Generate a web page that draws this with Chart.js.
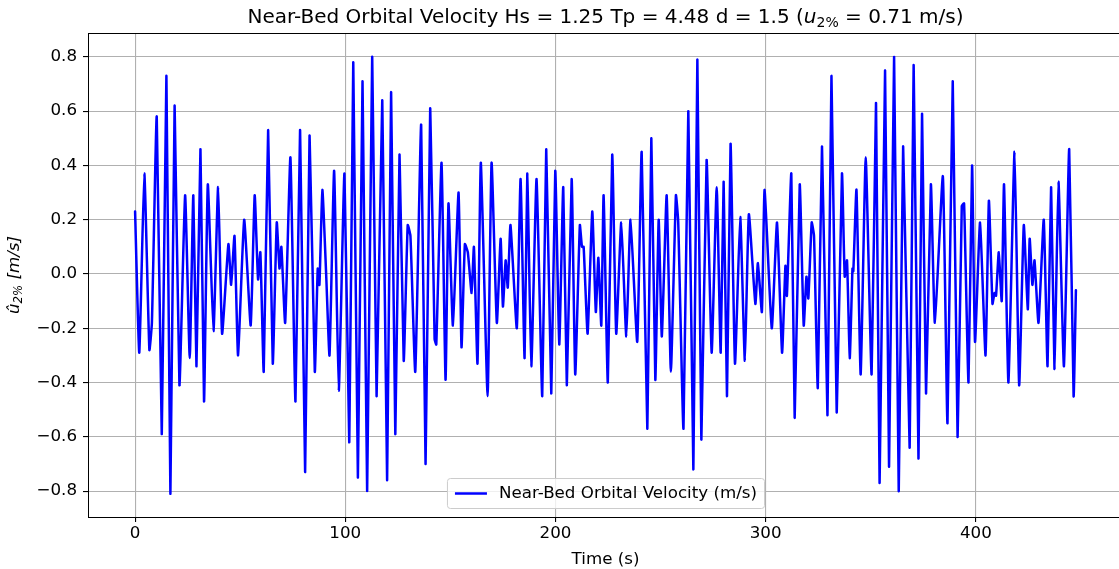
<!DOCTYPE html>
<html>
<head>
<meta charset="utf-8">
<title>Near-Bed Orbital Velocity</title>
<script src="https://cdn.jsdelivr.net/npm/chart.js@4.4.1/dist/chart.umd.min.js"></script>
<style>
  html, body { margin: 0; padding: 0; background: #fff; overflow: hidden; }
  #wrap { position: relative; width: 1125px; height: 569px; }
</style>
</head>
<body>
<div id="wrap"><canvas id="myChart" width="1125" height="569"></canvas></div>
<script>
// time (s) of each turning point of the velocity record
var timeSec = [
  0, 2.0, 4.4, 6.8, 8.0, 10.3, 12.7, 14.9, 16.8, 18.8, 21.1, 23.8, 26.0, 27.7, 29.2, 31.1, 32.8, 34.6, 37.3, 39.5, 41.4,
  44.4, 45.7, 47.3, 49.0, 51.9, 55.0, 56.9, 58.5, 59.6, 61.2, 63.3, 65.5, 67.4, 68.7, 69.6, 71.4, 73.9, 76.3, 78.5, 80.9, 83.0, 85.5,
  86.9, 87.7, 89.1, 90.9, 92.5, 94.7, 96.9, 99.6, 101.9, 103.8, 106.0, 108.2, 110.4, 112.8, 114.9, 117.6, 119.9, 121.8, 123.8, 125.8, 127.8, 129.7, 131.0,
  133.3, 136.1, 138.2, 140.4, 142.5, 143.3, 145.8, 147.7, 149.1, 151.2, 153.9, 155.3, 156.9, 158.3, 160.1, 161.2, 162.9, 164.5, 167.7, 169.6, 172.1, 173.9, 175.0, 176.3, 177.3,
  178.6, 181.6, 183.4, 185.3, 186.6, 188.5, 191.0, 193.7, 195.6, 198.0, 199.9, 201.8, 203.7, 205.4, 207.7, 209.4, 211.6, 212.6, 213.4, 215.3, 217.5, 219.2, 220.4, 221.8, 222.9,
  224.9, 227.0, 228.9, 231.3, 233.7, 235.7, 238.9, 241.0, 243.7, 245.6, 247.5, 249.1, 250.6, 252.9, 254.9, 257.3, 258.4, 260.9, 263.2, 265.6, 267.5,
  269.4, 271.9, 274.3, 276.7, 278.6, 280.0, 281.6, 283.3, 285.4, 287.9, 290.1, 292.0, 295.1, 296.3, 298.2, 299.5, 302.9, 305.4, 307.8, 309.4, 310.1, 312.2,
  313.8, 316.2, 318.1, 319.4, 320.3, 321.9, 323.0, 324.8, 326.8, 329.4, 331.3, 333.8, 336.3, 337.6, 338.7, 340.0, 341.3, 341.7, 343.2, 345.2, 347.6, 350.4, 352.5, 354.2, 356.8,
  358.7, 361.1, 363.3, 365.4, 368.5, 370.4, 372.7, 374.4, 376.3, 378.6, 380.5, 384.3, 386.5, 389.0, 391.3, 393.3, 394.4, 396.5, 398.2, 399.6, 402.0,
  404.6, 406.2, 407.9, 408.9, 409.6, 410.9, 412.3, 413.4, 415.5, 418.4, 420.6, 422.8, 424.7, 425.6, 426.9, 427.9, 429.8, 432.3, 434.1, 435.8, 437.4, 439.3, 441.9, 444.4, 446.5, 447.6
];

// near-bed orbital velocity (m/s) at those times
var velocity = [
  0.23, -0.29, 0.37, -0.28, -0.18, 0.58, -0.59, 0.73, -0.81, 0.62, -0.41, 0.29, -0.31, 0.29, -0.34, 0.46, -0.47, 0.33, -0.21, 0.32, -0.22,
  0.11, -0.04, 0.14, -0.30, 0.20, -0.19, 0.29, -0.02, 0.08, -0.36, 0.53, -0.33, 0.19, 0.02, 0.10, -0.18, 0.43, -0.47, 0.53, -0.73, 0.51, -0.36,
  0.02, -0.04, 0.31, 0.00, -0.30, 0.38, -0.43, 0.37, -0.62, 0.78, -0.75, 0.71, -0.80, 0.80, -0.45, 0.64, -0.76, 0.67, -0.59, 0.44, -0.32, 0.18, 0.14,
  -0.36, 0.55, -0.70, 0.61, -0.24, -0.26, 0.41, -0.39, 0.26, -0.19, 0.30, -0.27, 0.11, 0.08, -0.07, 0.10, -0.33, 0.41, -0.45, 0.41, -0.18, 0.13, -0.12, 0.05, -0.05,
  0.18, -0.20, 0.35, -0.31, 0.37, -0.34, 0.35, -0.45, 0.46, -0.44, 0.38, -0.26, 0.32, -0.41, 0.35, -0.37, 0.18, 0.10, 0.10, -0.22, 0.23, -0.14, 0.06, -0.19, 0.29,
  -0.40, 0.44, -0.22, 0.19, -0.23, 0.20, -0.25, 0.45, -0.57, 0.50, -0.39, 0.20, -0.23, 0.29, -0.36, 0.29, 0.19, -0.57, 0.60, -0.72, 0.79,
  -0.61, 0.42, -0.29, 0.32, -0.29, 0.34, -0.45, 0.48, -0.33, 0.21, -0.32, 0.22, -0.11, 0.04, -0.14, 0.31, -0.20, 0.19, -0.29, 0.03, -0.08, 0.37,
  -0.53, 0.33, -0.19, -0.01, -0.09, 0.19, 0.14, -0.42, 0.47, -0.52, 0.73, -0.51, 0.37, -0.01, 0.05, -0.31, 0.02, 0.01, 0.31, -0.37, 0.43, -0.37, 0.63, -0.77, 0.75,
  -0.71, 0.80, -0.80, 0.47, -0.64, 0.77, -0.68, 0.59, -0.44, 0.33, -0.18, 0.36, -0.55, 0.71, -0.60, 0.25, 0.26, -0.40, 0.40, -0.25, 0.19,
  -0.30, 0.27, -0.11, -0.07, -0.08, 0.08, -0.10, 0.33, -0.40, 0.45, -0.41, 0.18, -0.13, 0.13, -0.04, 0.05, -0.18, 0.20, -0.34, 0.32, -0.35, 0.34, -0.34, 0.46, -0.45, -0.06
];

var xTicks = [0, 100, 200, 300, 400];
var yTicks = [-0.8, -0.6, -0.4, -0.2, 0.0, 0.2, 0.4, 0.6, 0.8];

var seriesLabel = 'Near-Bed Orbital Velocity (m/s)';
var FONT = '"DejaVu Sans", sans-serif';

var points = timeSec.map(function (t, i) { return { x: t, y: velocity[i] }; });

function minusSign(s) { return s.replace('-', '\u2212'); }

// axes frame, title, y label, x label and legend
var decorations = {
  id: 'decorations',
  afterDraw: function (chart) {
    var ctx = chart.ctx;
    var a = chart.chartArea;
    var cx = (a.left + a.right) / 2;
    ctx.save();

    // frame
    ctx.strokeStyle = '#000';
    ctx.lineWidth = 1;
    ctx.strokeRect(a.left + 0.5, a.top + 0.5, a.right - a.left - 1, a.bottom - a.top);

    // title with u_2% part
    var big = '20px ' + FONT, ital = 'italic 20px ' + FONT, sub = '14px ' + FONT;
    var p1 = 'Near-Bed Orbital Velocity Hs = 1.25 Tp = 4.48 d = 1.5 (';
    var p2 = 'u', p3 = '2%', p4 = ' = 0.71 m/s)';
    ctx.font = big; var w1 = ctx.measureText(p1).width, w4 = ctx.measureText(p4).width;
    ctx.font = ital; var w2 = ctx.measureText(p2).width;
    ctx.font = sub; var w3 = ctx.measureText(p3).width;
    var x = cx - (w1 + w2 + w3 + w4) / 2, ty = 23;
    ctx.fillStyle = '#000';
    ctx.textBaseline = 'alphabetic';
    ctx.textAlign = 'left';
    ctx.font = big; ctx.fillText(p1, x, ty); x += w1;
    ctx.font = ital; ctx.fillText(p2, x, ty); x += w2;
    ctx.font = sub; ctx.fillText(p3, x, ty + 4); x += w3;
    ctx.font = big; ctx.fillText(p4, x, ty);

    // x label
    ctx.font = '16.7px ' + FONT;
    ctx.textAlign = 'center';
    ctx.fillText('Time (s)', cx, 564);

    // y label, rotated
    ctx.save();
    ctx.translate(19, (a.top + a.bottom) / 2);
    ctx.rotate(-Math.PI / 2);
    var yi = 'italic 16.7px ' + FONT, ys = 'italic 11.7px ' + FONT;
    var q1 = '\u00fb', q2 = '2%', q3 = ' [m/s]';
    ctx.font = yi; var v1 = ctx.measureText(q1).width, v3 = ctx.measureText(q3).width;
    ctx.font = ys; var v2 = ctx.measureText(q2).width;
    var lx = -(v1 + v2 + v3) / 2;
    ctx.textAlign = 'left';
    ctx.font = yi; ctx.fillText(q1, lx, 0); lx += v1;
    ctx.font = ys; ctx.fillText(q2, lx, 3); lx += v2;
    ctx.font = yi; ctx.fillText(q3, lx, 0);
    ctx.restore();

    // legend, lower centre inside the axes
    ctx.font = '16.7px ' + FONT;
    ctx.textAlign = 'left';
    var tw = ctx.measureText(seriesLabel).width;
    var bw = 8 + 32 + 12 + tw + 7, bh = 30;
    var bx = cx - bw / 2, by = a.bottom - 9 - bh;
    ctx.beginPath();
    if (ctx.roundRect) ctx.roundRect(bx + 0.5, by + 0.5, bw, bh, 3); else ctx.rect(bx + 0.5, by + 0.5, bw, bh);
    ctx.fillStyle = 'rgba(255,255,255,0.8)';
    ctx.fill();
    ctx.strokeStyle = '#cccccc';
    ctx.lineWidth = 1;
    ctx.stroke();
    var ly = by + bh / 2 + 0.5;
    ctx.strokeStyle = '#0000ff';
    ctx.lineWidth = 2.5;
    ctx.beginPath();
    ctx.moveTo(bx + 8, ly); ctx.lineTo(bx + 40, ly);
    ctx.stroke();
    ctx.fillStyle = '#000';
    ctx.textBaseline = 'middle';
    ctx.fillText(seriesLabel, bx + 52, ly);

    ctx.restore();
  }
};

var element = document.getElementById('myChart').getContext('2d');

var chart = new Chart(element, {
  type: 'scatter',
  data: {
    datasets: [{
      label: seriesLabel,
      data: points,
      showLine: true,
      borderColor: '#0000ff',
      borderWidth: 2.5,
      borderJoinStyle: 'round',
      borderCapStyle: 'round',
      pointRadius: 0,
      tension: 0.15,
      fill: false
    }]
  },
  options: {
    responsive: false,
    animation: false,
    layout: { padding: { top: 33, left: 0, right: 2, bottom: 0 } },
    plugins: {
      legend: { display: false },
      title: { display: false },
      tooltip: { enabled: false }
    },
    scales: {
      x: {
        type: 'linear',
        min: -22.4,
        max: 470,
        afterBuildTicks: function (s) { s.ticks = xTicks.map(function (v) { return { value: v }; }); },
        afterFit: function (s) { s.height = 52; },
        grid: { color: '#b0b0b0', lineWidth: 1.1, tickColor: '#000', tickLength: 5 },
        border: { color: '#000', width: 1 },
        ticks: {
          color: '#000', padding: 2, maxRotation: 0,
          font: { family: FONT, size: 16.7 },
          callback: function (v) { return minusSign(String(v)); }
        }
      },
      y: {
        type: 'linear',
        min: -0.8955,
        max: 0.888,
        afterBuildTicks: function (s) { s.ticks = yTicks.map(function (v) { return { value: v }; }); },
        afterFit: function (s) { s.width = 88; },
        grid: { color: '#b0b0b0', lineWidth: 1.1, tickColor: '#000', tickLength: 5 },
        border: { color: '#000', width: 1 },
        ticks: {
          color: '#000', padding: 6,
          font: { family: FONT, size: 16.7 },
          callback: function (v) { return minusSign(v.toFixed(1)); }
        }
      }
    }
  },
  plugins: [decorations]
});
</script>
</body>
</html>
